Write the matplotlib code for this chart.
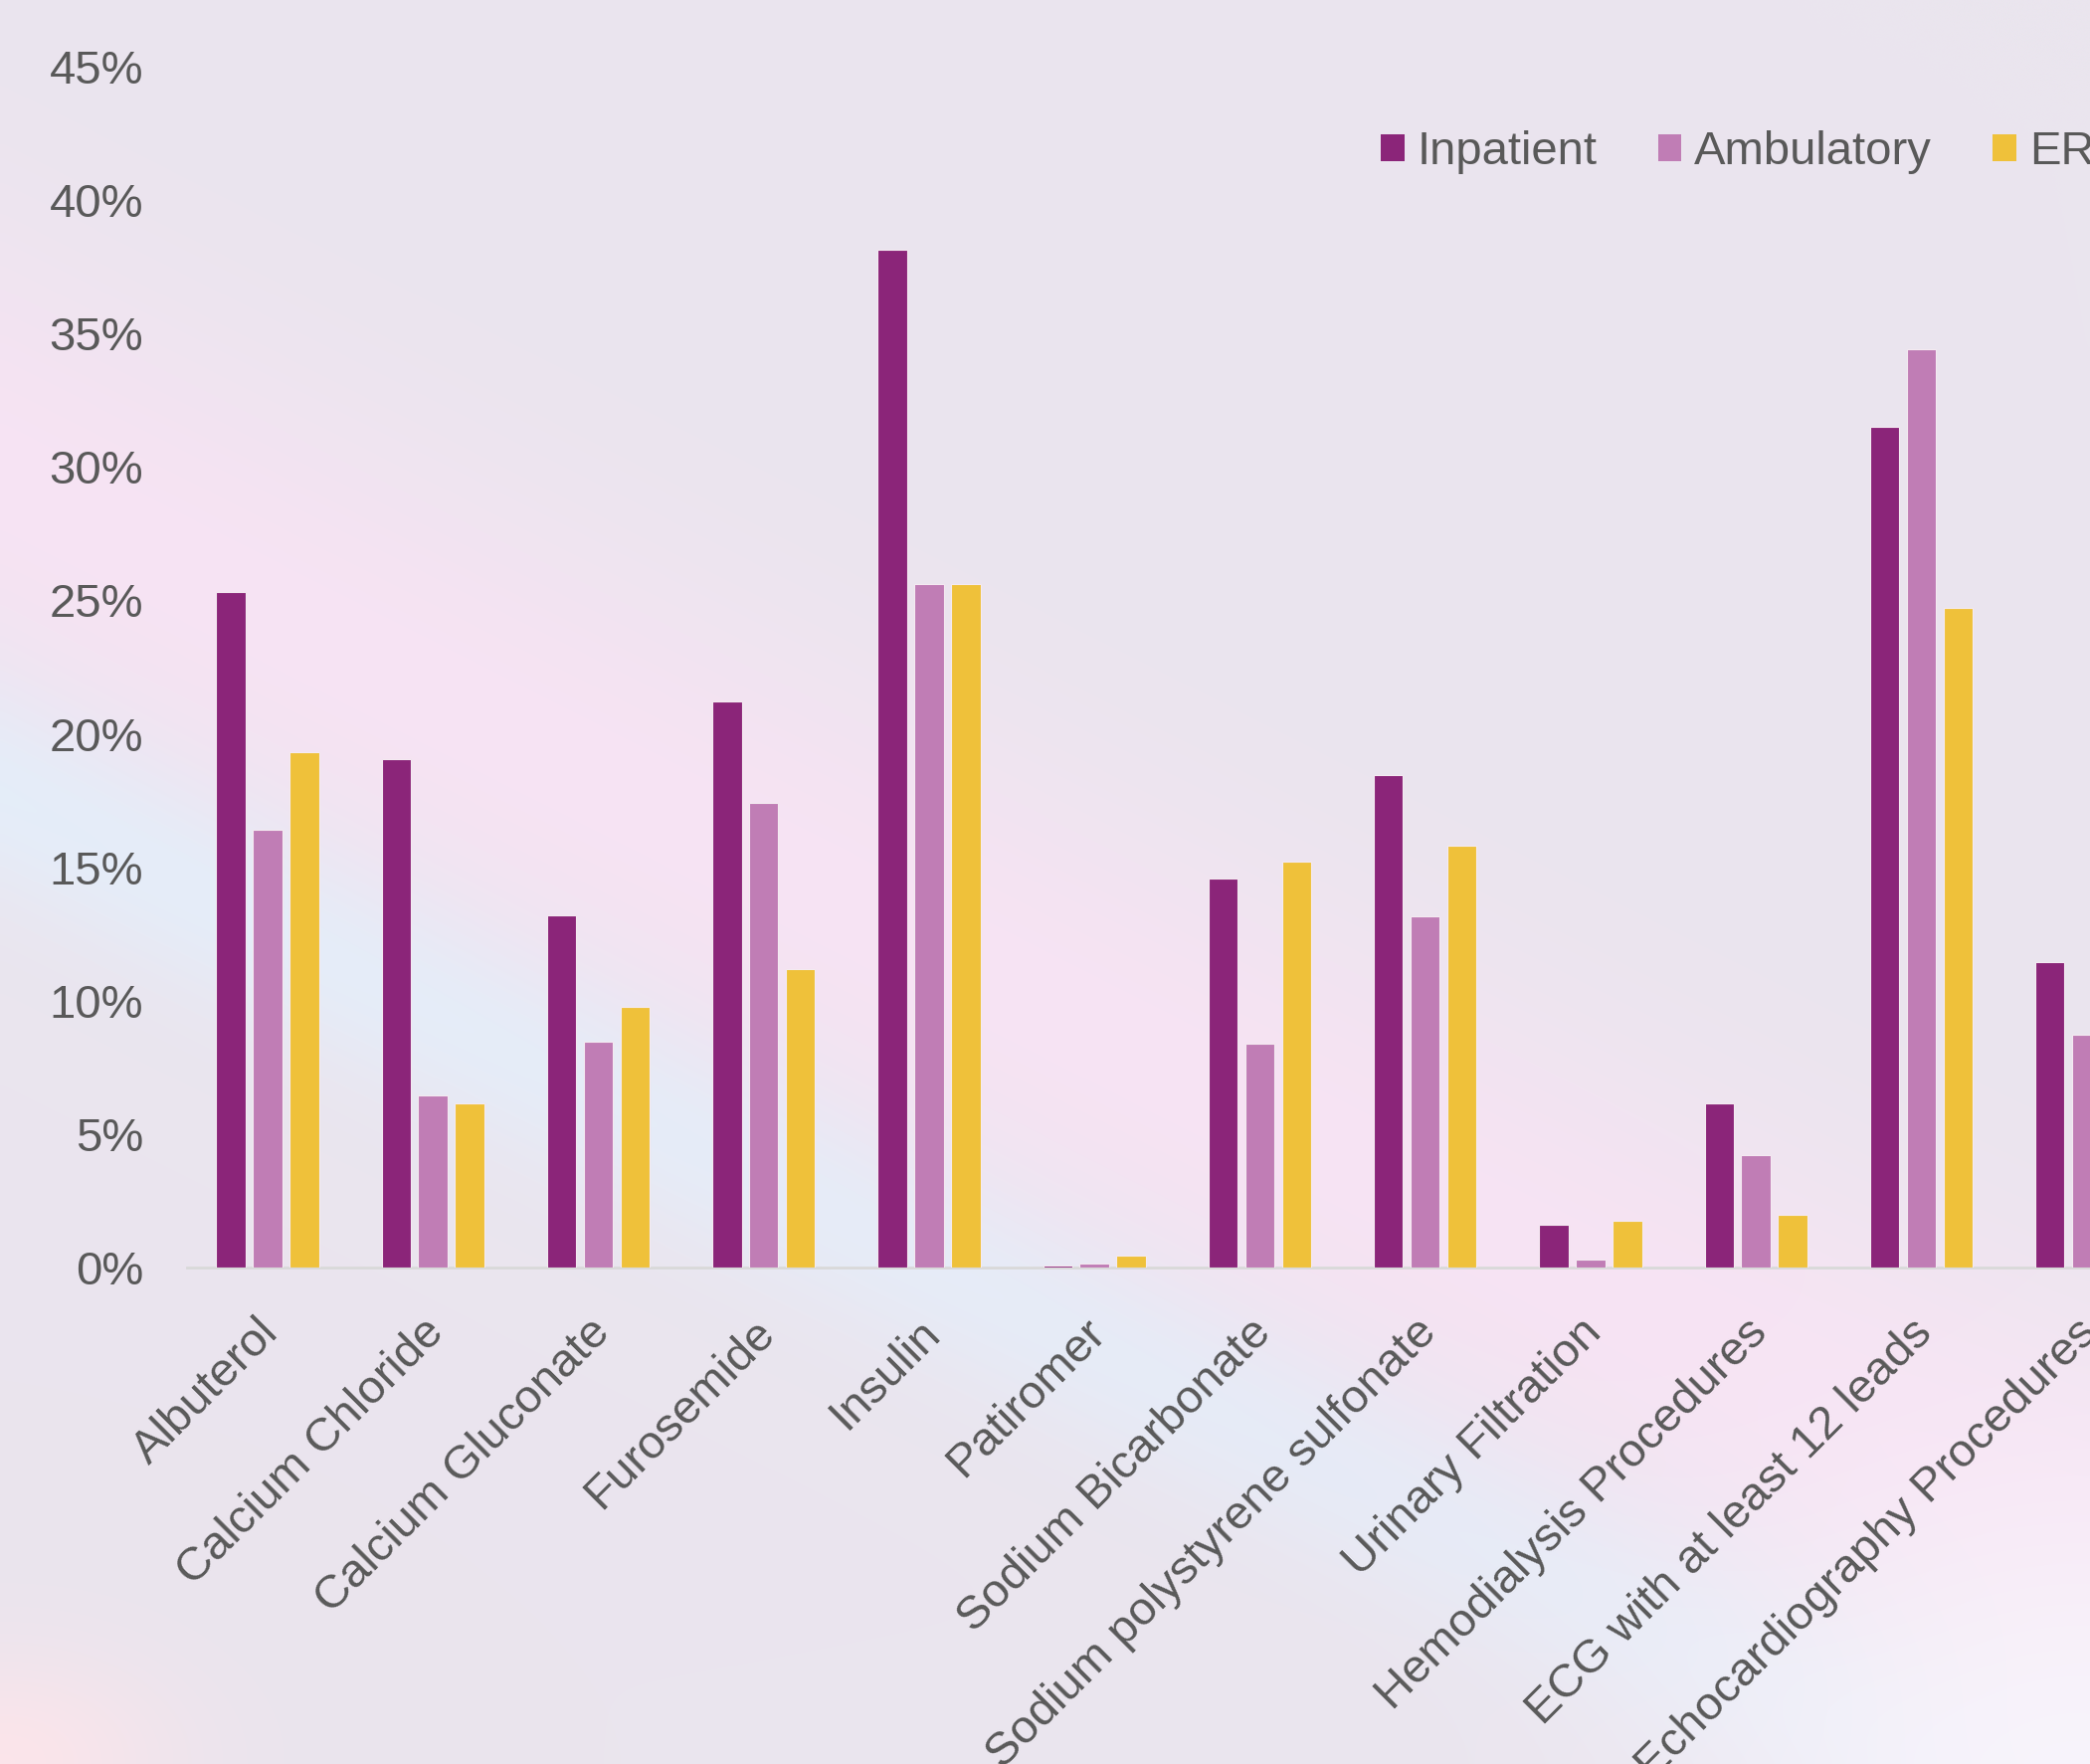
import numpy as np
import matplotlib.pyplot as plt
from matplotlib.patches import Patch
from matplotlib.transforms import ScaledTranslation

categories = ["Albuterol", "Calcium Chloride", "Calcium Gluconate", "Furosemide",
              "Insulin", "Patiromer", "Sodium Bicarbonate",
              "Sodium polystyrene sulfonate", "Urinary Filtration",
              "Hemodialysis Procedures", "ECG with at least 12 leads",
              "Echocardiography Procedures"]
inpatient = [25.3, 19.05, 13.2, 21.2, 38.15, 0.07, 14.57, 18.47, 1.6, 6.15, 31.5, 11.45]
ambulatory = [16.42, 6.45, 8.45, 17.4, 25.6, 0.16, 8.4, 13.15, 0.28, 4.22, 34.43, 8.73]
er = [19.3, 6.15, 9.75, 11.17, 25.62, 0.43, 15.2, 15.82, 1.76, 1.99, 24.7, 6.0]
series_names = ["Inpatient", "Ambulatory", "ER"]
yticks = [0, 5, 10, 15, 20, 25, 30, 35, 40, 45]

colors = ["#8B2579", "#C07DB5", "#EFC13A"]
text_color = "#595959"
plt.rcParams["font.family"] = ["Liberation Sans", "DejaVu Sans"]

W, H = 2101, 1773
fig = plt.figure(figsize=(W / 100, H / 100), dpi=100)

# soft pastel backdrop
bg = fig.add_axes([0, 0, 1, 1], zorder=-1)
bg.axis("off")
ny, nx = 300, 356
u, v = np.meshgrid(np.linspace(0, 1, nx), np.linspace(0, 1, ny))
t = v - 0.6 * u
base = np.array([234, 229, 238]) / 255
pink = np.array([248, 227, 244]) / 255
blue = np.array([228, 238, 250]) / 255
white = np.array([249, 245, 252]) / 255
rose = np.array([253, 228, 234]) / 255
img = np.ones((ny, nx, 3)) * base
w_pink = 0.9 * np.exp(-((t - 0.27) / 0.14) ** 2)
w_blue = 0.9 * np.exp(-((t - 0.45) / 0.06) ** 2) * (1 - 0.4 * u)
w_white = 0.9 * np.exp(-(((u - 1.0) / 0.18) ** 2 + ((v - 1.0) / 0.16) ** 2))
w_rose = 0.9 * np.exp(-(((u - 0.0) / 0.08) ** 2 + ((v - 1.0) / 0.06) ** 2))
for w, c in [(w_pink, pink), (w_blue, blue), (w_white, white), (w_rose, rose)]:
    img = img * (1 - w[..., None]) + c * w[..., None]
bg.imshow(img, extent=[0, 1, 0, 1], aspect="auto", interpolation="bicubic")
bg.set_xlim(0, 1)
bg.set_ylim(0, 1)

ax = fig.add_axes([188 / W, 1 - 1274 / H, 1 - 188 / W, (1274 - 67) / H])
ax.patch.set_alpha(0)

x = np.arange(len(categories))
bw = 0.177
step = 0.222
for i, (vals, name) in enumerate(zip([inpatient, ambulatory, er], series_names)):
    ax.bar(x + (i - 1) * step, vals, width=bw, color=colors[i], label=name,
           edgecolor="#F4EAF1", linewidth=0.8, zorder=3)

ax.set_xlim(-0.487, 11.02)
ax.set_ylim(0, 45)
ax.set_yticks(yticks)
ax.set_yticklabels([f"{v}%" for v in yticks])
ax.tick_params(axis="y", length=0, pad=31.5, labelsize=34, labelcolor=text_color)
ax.tick_params(axis="x", length=0, pad=29, labelsize=34, labelcolor=text_color)
ax.set_xticks(x)
ax.set_xticklabels(categories, rotation=45, ha="right", va="top", rotation_mode="anchor")
shift = ScaledTranslation(-11 / 100, -3 / 100, fig.dpi_scale_trans)
for lab in ax.get_xticklabels():
    lab.set_transform(lab.get_transform() + shift)

for side in ["left", "right", "top"]:
    ax.spines[side].set_visible(False)
ax.spines["bottom"].set_color("#D9D9D9")
ax.spines["bottom"].set_linewidth(2)

handles = [Patch(facecolor=c, edgecolor="none") for c in colors]
fig.legend(handles, series_names, loc="center left", bbox_to_anchor=(1388 / W, 1 - 153 / H),
           ncol=3, frameon=False, fontsize=34, handlelength=0.5, handleheight=0.5,
           handletextpad=0.27, columnspacing=1.3, borderpad=0, borderaxespad=0,
           labelcolor=text_color)

fig.savefig("out.png", dpi=100)
